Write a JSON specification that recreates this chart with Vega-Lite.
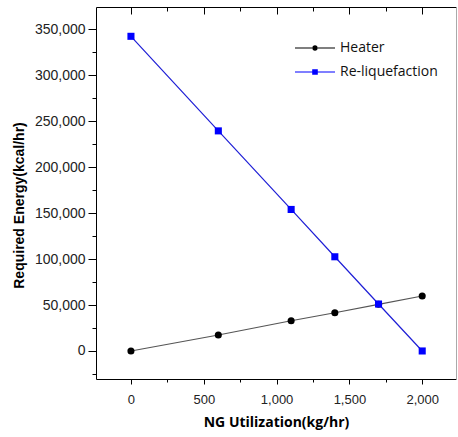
{
  "$schema": "https://vega.github.io/schema/vega-lite/v6.json",
  "width": 360,
  "height": 372,
  "autosize": "none",
  "padding": {"left": 96, "top": 7, "right": 2, "bottom": 58},
  "background": "white",
  "data": {
    "values": [
      {"ng": 0, "energy": 0, "series": "Heater"},
      {"ng": 600, "energy": 17400, "series": "Heater"},
      {"ng": 1100, "energy": 32900, "series": "Heater"},
      {"ng": 1400, "energy": 41600, "series": "Heater"},
      {"ng": 1700, "energy": 50800, "series": "Heater"},
      {"ng": 2000, "energy": 59800, "series": "Heater"},
      {"ng": 0, "energy": 342400, "series": "Re-liquefaction"},
      {"ng": 600, "energy": 239500, "series": "Re-liquefaction"},
      {"ng": 1100, "energy": 154000, "series": "Re-liquefaction"},
      {"ng": 1400, "energy": 102500, "series": "Re-liquefaction"},
      {"ng": 1700, "energy": 51100, "series": "Re-liquefaction"},
      {"ng": 2000, "energy": 0, "series": "Re-liquefaction"}
    ]
  },
  "config": {
    "view": {"stroke": null},
    "axis": {
      "grid": false,
      "domainColor": "#000000",
      "domainWidth": 1,
      "tickColor": "#000000",
      "tickWidth": 1,
      "labelColor": "#222222",
      "labelFont": "Liberation Sans",
      "labelFontSize": 13,
      "titleColor": "#000000",
      "titleFont": "Liberation Sans",
      "titleFontWeight": "bold",
      "titleFontSize": 14
    },
    "legend": {
      "orient": "none",
      "title": null,
      "symbolSize": 400,
      "symbolStrokeWidth": 0,
      "symbolOpacity": 1,
      "labelOffset": 15,
      "labelFont": "Open Sans",
      "labelFontSize": 14,
      "labelColor": "#111111"
    }
  },
  "layer": [
    {
      "mark": {"type": "line", "strokeWidth": 1.2},
      "encoding": {
        "x": {
          "field": "ng", "type": "quantitative",
          "scale": {"domain": [-240, 2232], "nice": false, "zero": false},
          "axis": {
            "orient": "top",
            "values": [0, 250, 500, 750, 1000, 1250, 1500, 1750, 2000],
            "labels": false,
            "title": null,
            "tickSize": {"condition": {"test": "datum.value % 500 === 0", "value": -7}, "value": -4}
          }
        },
        "y": {
          "field": "energy", "type": "quantitative",
          "scale": {"domain": [-30500, 374300], "nice": false, "zero": false},
          "axis": {
            "orient": "right",
            "ticks": false,
            "labels": false,
            "title": null,
            "domainColor": "#aaaaaa"
          }
        },
        "stroke": {
          "field": "series", "type": "nominal",
          "scale": {"range": ["#555555", "#1f1fd6"]},
          "legend": null
        },
        "detail": {"field": "series"}
      }
    },
    {
      "mark": {"type": "point", "filled": true, "size": 50, "opacity": 1},
      "encoding": {
        "x": {
          "field": "ng", "type": "quantitative",
          "axis": {
            "orient": "bottom",
            "values": [0, 250, 500, 750, 1000, 1250, 1500, 1750, 2000],
            "labelExpr": "datum.value % 500 === 0 ? format(datum.value, ',') : ''",
            "tickSize": {"condition": {"test": "datum.value % 500 === 0", "value": 5}, "value": 3},
            "labelPadding": 9,
            "labelFontSize": 13,
            "title": "NG Utilization(kg/hr)",
            "titleFont": "Open Sans",
            "titleFontSize": 14,
            "titleBaseline": "middle",
            "titleY": 43
          }
        },
        "y": {
          "field": "energy", "type": "quantitative",
          "axis": {
            "orient": "left",
            "values": [-25000, 0, 25000, 50000, 75000, 100000, 125000, 150000, 175000, 200000, 225000, 250000, 275000, 300000, 325000, 350000],
            "labelExpr": "datum.value % 50000 === 0 ? format(datum.value, ',') : ''",
            "tickSize": {"condition": {"test": "datum.value % 50000 === 0", "value": 8}, "value": 4},
            "labelPadding": 3,
            "labelFontSize": 14,
            "title": "Required Energy(kcal/hr)",
            "titleAlign": "center",
            "titleBaseline": "middle",
            "titleX": -77,
            "titleY": 198
          }
        },
        "color": {
          "field": "series", "type": "nominal",
          "scale": {"domain": ["Heater", "Re-liquefaction"], "range": ["#000000", "#0000ff"]},
          "legend": {
            "values": ["Heater"],
            "legendX": 209,
            "legendY": 31,
            "symbolType": "M-2,-0.05L-0.3,-0.05L-0.3,0.05L-2,0.05ZM0.3,-0.05L2,-0.05L2,0.05L0.3,0.05ZM0.28,0A0.28,0.28,0,1,1,-0.28,0A0.28,0.28,0,1,1,0.28,0Z"
          }
        },
        "shape": {
          "field": "series", "type": "nominal",
          "scale": {"range": ["circle", "square"]},
          "legend": null
        }
      }
    },
    {
      "mark": {"type": "point", "filled": true, "size": 10, "opacity": 0},
      "encoding": {
        "x": {"field": "ng", "type": "quantitative", "axis": null},
        "y": {"field": "energy", "type": "quantitative", "axis": null},
        "fill": {
          "field": "series", "type": "nominal",
          "scale": {"domain": ["Re-liquefaction", "Heater"], "range": ["#0000ff", "#000000"]},
          "legend": {
            "values": ["Re-liquefaction"],
            "legendX": 209,
            "legendY": 55,
            "symbolOpacity": 1,
            "symbolType": "M-2,-0.05L-0.28,-0.05L-0.28,0.05L-2,0.05ZM0.28,-0.05L2,-0.05L2,0.05L0.28,0.05ZM-0.28,-0.28L0.28,-0.28L0.28,0.28L-0.28,0.28Z"
          }
        }
      }
    }
  ],
  "resolve": {"axis": {"x": "independent", "y": "independent"}}
}
